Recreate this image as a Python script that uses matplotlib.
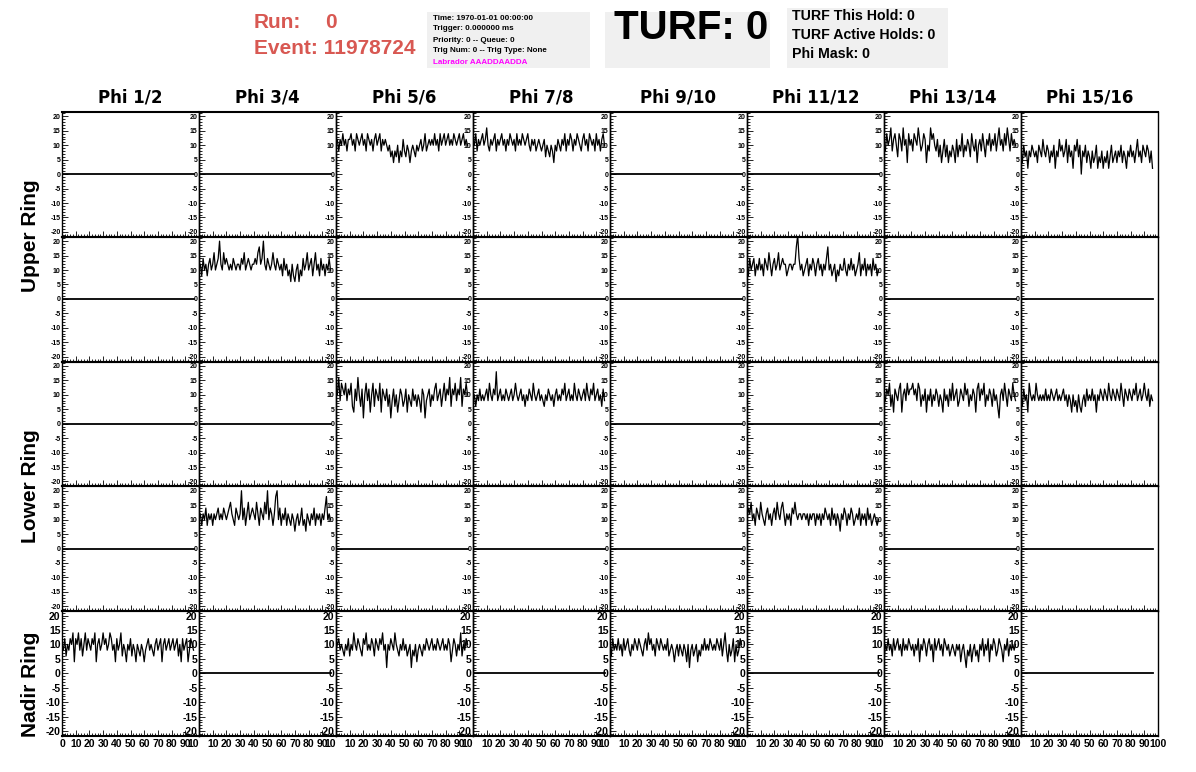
import numpy as np
import matplotlib.pyplot as plt
from matplotlib.ticker import MultipleLocator
from matplotlib.patches import Rectangle

plt.rcParams['font.family'] = ['Liberation Sans', 'DejaVu Sans']
plt.rcParams['font.weight'] = 'bold'

# labels
phi_labels = ["Phi 1/2", "Phi 3/4", "Phi 5/6", "Phi 7/8",
              "Phi 9/10", "Phi 11/12", "Phi 13/14", "Phi 15/16"]
ring_labels = ["Upper Ring", "Lower Ring", "Nadir Ring"]
xtick_vals = [0, 10, 20, 30, 40, 50, 60, 70, 80, 90, 100]
ytick_vals = [-20, -15, -10, -5, 0, 5, 10, 15, 20]

# sample times (ns)
t = np.arange(97)

# waveforms (mV-ish, quantised to even steps)
upper_a_phi56 = [10, 12, 8, 12, 10, 14, 10, 12, 8, 12,
                 12, 14, 10, 12, 8, 14, 12, 10, 12, 14,
                 10, 12, 8, 14, 12, 10, 12, 8, 12, 14,
                 10, 12, 14, 8, 12, 10, 12, 10, 8, 10,
                 6, 8, 4, 8, 6, 10, 4, 8, 6, 12,
                 8, 6, 10, 8, 4, 8, 10, 8, 6, 10,
                 8, 10, 12, 8, 10, 14, 8, 10, 12, 10,
                 12, 10, 14, 10, 12, 8, 14, 10, 12, 14,
                 10, 12, 14, 10, 12, 10, 14, 12, 10, 12,
                 14, 10, 12, 14, 10, 12, 10]
upper_a_phi78 = [12, 10, 14, 8, 12, 10, 12, 14, 10, 12,
                 16, 10, 8, 12, 10, 12, 14, 8, 12, 10,
                 12, 14, 10, 12, 8, 12, 10, 14, 12, 10,
                 12, 8, 14, 10, 12, 10, 14, 12, 10, 12,
                 14, 10, 8, 12, 10, 12, 8, 10, 12, 10,
                 8, 10, 12, 6, 10, 8, 6, 10, 8, 4,
                 10, 8, 12, 10, 8, 12, 10, 14, 8, 12,
                 10, 14, 12, 8, 12, 10, 14, 12, 10, 8,
                 12, 14, 10, 12, 8, 14, 12, 10, 12, 8,
                 14, 10, 12, 8, 12, 14, 10]
upper_a_phi1314 = [10, 8, 14, 10, 12, 16, 8, 12, 14, 10,
                   6, 14, 12, 8, 16, 10, 12, 4, 14, 10,
                   12, 8, 14, 12, 10, 16, 12, 8, 10, 14,
                   12, 4, 10, 8, 16, 12, 14, 10, 8, 12,
                   6, 10, 4, 8, 12, 6, 10, 4, 8, 6,
                   10, 8, 4, 12, 6, 10, 8, 14, 6, 10,
                   8, 12, 10, 6, 14, 10, 8, 12, 4, 10,
                   12, 8, 14, 10, 6, 12, 10, 14, 8, 12,
                   10, 14, 8, 12, 16, 10, 12, 8, 14, 10,
                   16, 12, 8, 14, 10, 12, 10]
upper_a_phi1516 = [8, 4, 10, 6, 8, 2, 8, 6, 10, 8,
                   6, 8, 4, 10, 8, 6, 12, 8, 6, 10,
                   8, 4, 8, 6, 10, 2, 8, 6, 12, 8,
                   10, 6, 8, 12, 4, 10, 6, 8, 2, 10,
                   8, 12, 6, 10, 0, 8, 6, 10, 4, 8,
                   6, 2, 8, 4, 6, 10, 2, 6, 4, 8,
                   2, 6, 4, 8, 2, 6, 10, 4, 6, 8,
                   4, 8, 6, 10, 4, 8, 6, 2, 8, 6,
                   10, 6, 8, 4, 8, 12, 6, 8, 4, 10,
                   8, 6, 10, 8, 4, 8, 2]
upper_b_phi34 = [10, 12, 8, 14, 10, 12, 8, 12, 14, 10,
                 12, 16, 10, 12, 14, 20, 12, 10, 16, 12,
                 14, 12, 10, 12, 10, 14, 12, 10, 12, 12,
                 10, 14, 12, 16, 10, 12, 14, 12, 10, 12,
                 12, 14, 12, 16, 18, 12, 14, 20, 12, 10,
                 14, 12, 10, 12, 16, 12, 10, 14, 12, 10,
                 12, 8, 14, 10, 12, 8, 10, 6, 12, 8,
                 6, 10, 12, 6, 10, 8, 14, 10, 12, 16,
                 10, 12, 14, 8, 12, 16, 10, 12, 8, 14,
                 10, 12, 8, 12, 10, 14, 10]
upper_b_phi1112 = [12, 8, 14, 10, 12, 14, 8, 12, 10, 14,
                   10, 12, 8, 14, 12, 10, 16, 12, 8, 12,
                   14, 10, 12, 16, 10, 12, 14, 12, 12, 8,
                   10, 12, 12, 10, 12, 12, 18, 22, 14, 10,
                   12, 8, 10, 12, 14, 8, 12, 10, 14, 12,
                   8, 12, 14, 10, 12, 8, 12, 10, 14, 18,
                   10, 12, 8, 10, 12, 6, 10, 8, 12, 10,
                   10, 14, 10, 8, 12, 10, 14, 10, 12, 8,
                   10, 12, 16, 8, 12, 10, 14, 8, 12, 10,
                   12, 8, 14, 10, 12, 8, 10]
lower_a_phi56 = [12, 10, 16, 8, 14, 12, 10, 14, 8, 12,
                 10, 14, 6, 4, 12, 8, 16, 10, 6, 12,
                 2, 10, 14, 8, 12, 4, 10, 14, 6, 12,
                 10, 8, 14, 4, 12, 10, 8, 12, 6, 10,
                 2, 8, 12, 6, 10, 4, 8, 12, 10, 6,
                 8, 12, 4, 10, 8, 6, 12, 8, 10, 6,
                 10, 8, 4, 12, 10, 2, 8, 10, 12, 6,
                 10, 8, 12, 14, 8, 10, 12, 6, 10, 14,
                 8, 12, 10, 16, 6, 12, 10, 14, 8, 12,
                 10, 16, 6, 12, 10, 14, 10]
lower_a_phi78 = [8, 10, 6, 10, 8, 12, 8, 10, 8, 10,
                 12, 8, 14, 10, 8, 12, 10, 18, 8, 10,
                 12, 8, 10, 8, 12, 10, 8, 10, 12, 8,
                 10, 14, 10, 8, 10, 12, 8, 10, 6, 10,
                 8, 12, 10, 8, 14, 10, 8, 10, 12, 8,
                 10, 8, 6, 10, 8, 12, 10, 8, 10, 6,
                 10, 12, 8, 10, 8, 12, 10, 14, 8, 10,
                 12, 8, 10, 8, 14, 10, 8, 12, 10, 8,
                 10, 12, 8, 14, 10, 8, 12, 10, 14, 8,
                 10, 12, 8, 10, 6, 12, 8]
lower_a_phi1314 = [10, 8, 12, 10, 14, 6, 10, 4, 12, 10,
                   8, 12, 14, 4, 10, 12, 8, 14, 10, 12,
                   12, 14, 10, 12, 8, 14, 12, 6, 10, 8,
                   12, 4, 10, 8, 12, 6, 10, 8, 12, 10,
                   6, 10, 8, 4, 12, 8, 10, 6, 12, 8,
                   14, 8, 10, 12, 6, 8, 12, 10, 8, 14,
                   10, 12, 6, 10, 8, 12, 10, 4, 12, 14,
                   8, 12, 10, 14, 6, 10, 8, 12, 10, 6,
                   12, 8, 10, 6, 2, 10, 12, 8, 14, 10,
                   6, 12, 10, 8, 14, 10, 8]
lower_a_phi1516 = [10, 6, 12, 8, 10, 4, 14, 10, 8, 10,
                   8, 14, 10, 8, 10, 8, 10, 8, 12, 8,
                   10, 8, 12, 10, 8, 10, 12, 8, 10, 8,
                   10, 12, 8, 10, 6, 10, 8, 4, 10, 6,
                   8, 4, 10, 6, 4, 8, 10, 6, 12, 8,
                   10, 8, 12, 8, 10, 4, 10, 8, 12, 10,
                   8, 12, 10, 8, 14, 10, 8, 12, 10, 8,
                   12, 10, 8, 14, 10, 6, 12, 10, 8, 12,
                   10, 8, 12, 10, 14, 8, 10, 12, 8, 10,
                   14, 10, 8, 12, 6, 10, 8]
lower_b_phi34 = [10, 12, 8, 12, 10, 14, 8, 12, 10, 12,
                 8, 12, 10, 12, 14, 10, 12, 10, 14, 12,
                 10, 12, 14, 16, 12, 10, 8, 14, 12, 10,
                 12, 20, 10, 14, 8, 12, 16, 10, 12, 14,
                 12, 10, 16, 12, 8, 14, 12, 10, 16, 12,
                 20, 10, 14, 12, 8, 12, 18, 20, 10, 14,
                 8, 12, 10, 14, 8, 12, 10, 8, 12, 10,
                 6, 10, 12, 8, 10, 14, 8, 10, 6, 12,
                 10, 8, 12, 10, 14, 8, 12, 10, 12, 8,
                 12, 10, 14, 18, 10, 12, 10]
lower_b_phi1112 = [10, 14, 12, 16, 10, 12, 8, 14, 12, 10,
                   16, 12, 10, 8, 12, 14, 10, 12, 8, 12,
                   14, 10, 16, 12, 10, 14, 16, 12, 8, 12,
                   10, 12, 8, 14, 12, 16, 12, 10, 12, 12,
                   10, 12, 12, 10, 12, 8, 12, 10, 12, 12,
                   8, 12, 10, 12, 8, 12, 10, 14, 12, 10,
                   12, 8, 14, 10, 12, 8, 12, 10, 6, 12,
                   10, 14, 12, 8, 12, 10, 14, 12, 8, 10,
                   12, 10, 14, 8, 12, 10, 12, 8, 14, 10,
                   12, 8, 10, 12, 10, 8, 10]
nadir_phi12 = [10, 8, 12, 6, 10, 8, 12, 10, 14, 4,
               12, 10, 14, 8, 12, 6, 10, 14, 8, 12,
               10, 8, 12, 10, 14, 4, 10, 12, 8, 10,
               14, 10, 12, 8, 10, 14, 12, 8, 10, 4,
               12, 8, 10, 14, 6, 10, 8, 4, 10, 8,
               12, 6, 10, 8, 4, 10, 8, 6, 10, 8,
               4, 8, 10, 12, 8, 10, 8, 6, 10, 12,
               8, 10, 12, 4, 10, 12, 8, 10, 12, 8,
               10, 12, 8, 10, 12, 6, 10, 4, 12, 8,
               10, 12, 4, 8, 12, 10, 8]
nadir_phi56 = [8, 10, 12, 8, 10, 8, 6, 10, 8, 12,
               6, 10, 8, 14, 10, 8, 12, 10, 8, 6,
               12, 10, 14, 8, 10, 8, 12, 10, 6, 12,
               10, 8, 12, 10, 14, 8, 10, 2, 10, 8,
               12, 10, 8, 14, 10, 8, 6, 10, 8, 12,
               8, 10, 6, 8, 10, 2, 8, 6, 10, 4,
               8, 10, 8, 6, 10, 8, 12, 10, 8, 10,
               12, 8, 10, 8, 12, 10, 8, 10, 12, 8,
               10, 8, 12, 10, 4, 8, 12, 10, 6, 10,
               8, 14, 6, 10, 8, 12, 10]
nadir_phi910 = [10, 6, 12, 8, 10, 8, 12, 8, 10, 6,
                12, 8, 10, 12, 8, 6, 10, 8, 12, 10,
                8, 12, 10, 8, 6, 10, 12, 8, 14, 10,
                12, 8, 10, 6, 12, 10, 8, 12, 10, 8,
                10, 8, 12, 6, 8, 10, 8, 4, 8, 10,
                6, 10, 8, 6, 10, 8, 4, 10, 2, 8,
                10, 6, 8, 10, 4, 8, 6, 10, 8, 12,
                8, 10, 8, 12, 10, 8, 10, 8, 12, 10,
                8, 12, 6, 10, 14, 8, 4, 10, 6, 8,
                12, 4, 10, 6, 8, 12, 10]
nadir_phi1314 = [4, 10, 8, 12, 8, 10, 6, 12, 8, 10,
                 12, 8, 10, 6, 12, 8, 10, 8, 12, 10,
                 8, 10, 6, 10, 8, 12, 4, 10, 8, 12,
                 10, 6, 10, 12, 8, 10, 4, 12, 8, 10,
                 12, 8, 10, 6, 12, 10, 8, 10, 6, 8,
                 10, 8, 6, 10, 8, 10, 4, 8, 10, 6,
                 2, 8, 6, 10, 4, 8, 10, 6, 8, 4,
                 10, 8, 12, 6, 10, 8, 12, 4, 10, 8,
                 12, 10, 6, 8, 12, 10, 8, 4, 10, 8,
                 12, 6, 10, 8, 10, 8, 10]

# (row, column) of each channel that carries a waveform; all others read 0
traces = {
    (0, 2): upper_a_phi56, (0, 3): upper_a_phi78,
    (0, 6): upper_a_phi1314, (0, 7): upper_a_phi1516,
    (1, 1): upper_b_phi34, (1, 5): upper_b_phi1112,
    (2, 2): lower_a_phi56, (2, 3): lower_a_phi78,
    (2, 6): lower_a_phi1314, (2, 7): lower_a_phi1516,
    (3, 1): lower_b_phi34, (3, 5): lower_b_phi1112,
    (4, 0): nadir_phi12, (4, 2): nadir_phi56,
    (4, 4): nadir_phi910, (4, 6): nadir_phi1314,
}
flat = [0] * len(t)

W, H = 1196, 772
fig = plt.figure(figsize=(W / 100, H / 100), dpi=100)

# grid geometry in pixels
gx0, gx1 = 62, 1158
gy0, gy1 = 112, 736
cw = (gx1 - gx0) / 8
rh = (gy1 - gy0) / 5

for r in range(5):
    for c in range(8):
        ax = fig.add_axes([(gx0 + c * cw) / W, 1 - (gy0 + (r + 1) * rh) / H,
                           cw / W, rh / H])
        ax.patch.set_alpha(0)
        if (r, c) in traces:
            ax.plot(t, traces[(r, c)], color='black', lw=0.9)
        else:
            ax.plot(t, flat, color='black', lw=1.3)
        ax.set_xlim(0, 100)
        ax.set_ylim(-21.7, 21.5)
        ax.xaxis.set_major_locator(MultipleLocator(10))
        ax.xaxis.set_minor_locator(MultipleLocator(2))
        ax.set_yticks(ytick_vals)
        ax.yaxis.set_minor_locator(MultipleLocator(1))
        ax.tick_params(which='both', direction='in', top=False, right=False,
                       width=0.6, pad=1)
        ax.tick_params(which='major', length=4)
        ax.tick_params(which='minor', length=2)
        for side in ['top', 'bottom']:
            ax.spines[side].set_linewidth(1.5)
        for side in ['left', 'right']:
            ax.spines[side].set_linewidth(1.0)

        ysize = 7.5 if r == 4 else 5
        ax.set_yticklabels([str(v) for v in ytick_vals], fontsize=ysize,
                           fontweight='bold')

        if r == 4:
            ax.set_xticks(xtick_vals)
            labels = [str(v) for v in xtick_vals]
            if c > 0:
                labels[0] = ''
            if c < 7:
                labels[-1] = '10'
            ax.set_xticklabels(labels, fontsize=7.5, fontweight='bold')
            if c < 7:
                ax.get_xticklabels()[-1].set_horizontalalignment('right')
            ax.tick_params(axis='x', pad=2)
        else:
            ax.tick_params(axis='x', labelbottom=False)

# column titles
for c, lab in enumerate(phi_labels):
    fig.text((gx0 + (c + 0.5) * cw) / W, 1 - 97 / H, lab, ha='center',
             va='center', fontsize=12, fontweight='bold',
             family='DejaVu Sans')

# ring labels
for lab, yc in zip(ring_labels, [236, 486, 684]):
    fig.text(31 / W, 1 - yc / H, lab, rotation=90, ha='center', va='center',
             fontsize=15, fontweight='bold')

# header
red = '#d85852'
fig.text(254 / W, 1 - 22 / H, 'Run:', color=red, fontsize=15,
         fontweight='bold', va='center')
fig.text(331 / W, 1 - 22 / H, '0', color=red, fontsize=15,
         fontweight='bold', va='center', ha='center')
fig.text(254 / W, 1 - 48 / H, 'Event: 11978724', color=red, fontsize=15,
         fontweight='bold', va='center')

grey = '#f0f0f0'
for (bx0, by0, bx1, by1) in [(427, 12, 590, 68), (605, 12, 770, 68),
                             (787, 8, 948, 68)]:
    fig.patches.append(Rectangle((bx0 / W, 1 - by1 / H), (bx1 - bx0) / W,
                                 (by1 - by0) / H, transform=fig.transFigure,
                                 facecolor=grey, edgecolor='none', zorder=0))

info_lines = ["Time: 1970-01-01 00:00:00", "Trigger: 0.000000 ms",
              "Priority: 0 -- Queue: 0", "Trig Num: 0 -- Trig Type: None",
              "Labrador AAADDAADDA"]
for i, line in enumerate(info_lines):
    fig.text(433 / W, 1 - (18 + 11 * i) / H, line, fontsize=5.8,
             fontweight='bold', va='center',
             color='#ff00ff' if i == 4 else 'black')

fig.text(691 / W, 1 - 28 / H, 'TURF: 0', fontsize=29, fontweight='bold',
         ha='center', va='center')

turf_lines = ["TURF This Hold: 0", "TURF Active Holds: 0", "Phi Mask: 0"]
for i, line in enumerate(turf_lines):
    fig.text(792 / W, 1 - (16 + 19 * i) / H, line, fontsize=10.2,
             fontweight='bold', va='center')

fig.savefig('out.png', dpi=100, facecolor='white')
